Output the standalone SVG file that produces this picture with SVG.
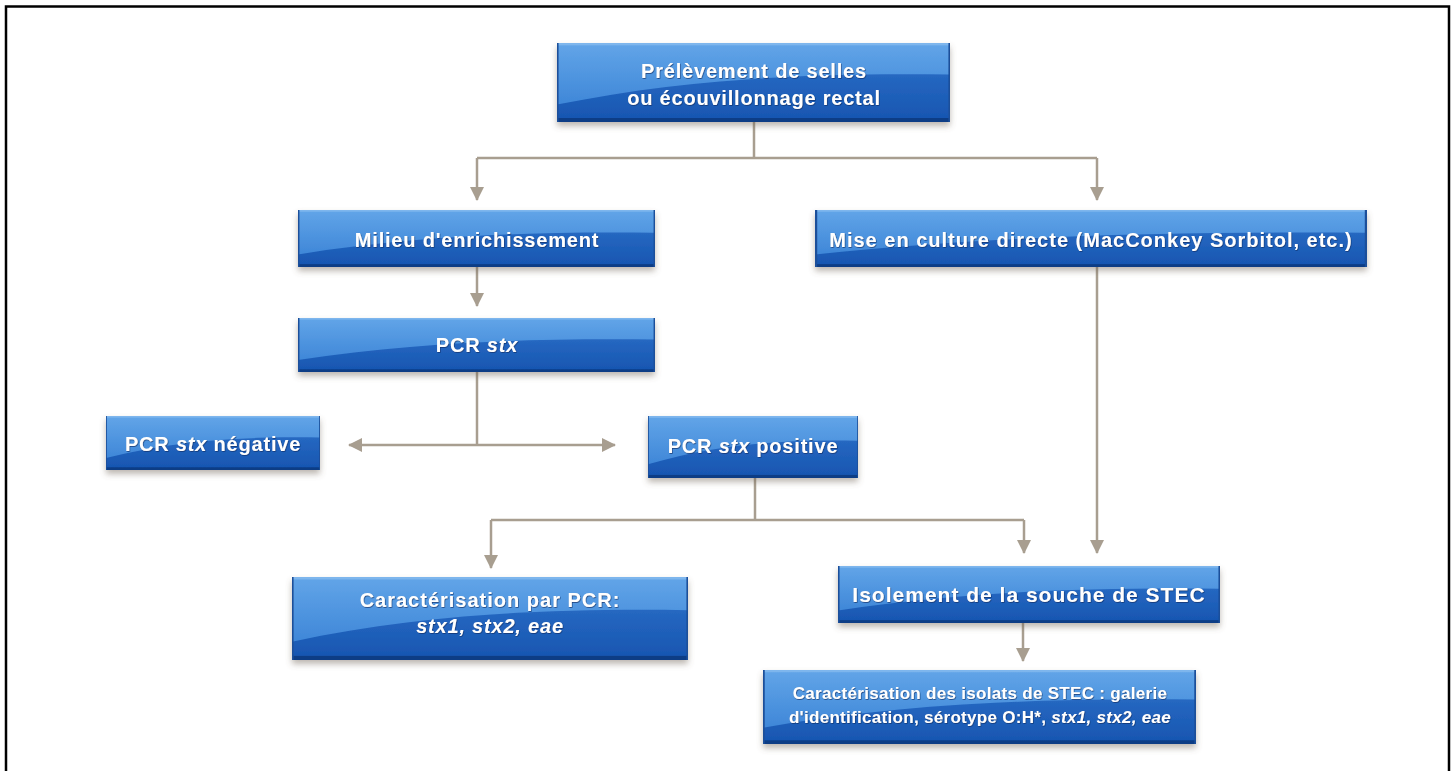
<svg xmlns="http://www.w3.org/2000/svg" xmlns:xlink="http://www.w3.org/1999/xlink" width="1455" height="771" viewBox="0 0 1455 771">
<style>
.lbl{font-family:"Liberation Sans",Arial,Helvetica,sans-serif;font-weight:bold;font-size:20px;fill:#ffffff;letter-spacing:0.8px;text-anchor:middle;filter:url(#tshadow)}
.sm{font-size:17px;letter-spacing:0.3px}
.lg{font-size:21px;letter-spacing:1px}
.it{font-style:italic}
.conn{fill:none;stroke:#a89e90;stroke-width:2.5}
.arr{marker-end:url(#ah)}
</style>
<defs>
<linearGradient id="gDark" x1="0" y1="0" x2="0" y2="1">
<stop offset="0" stop-color="#2f74cc"/>
<stop offset="1" stop-color="#1755b0"/>
</linearGradient>
<linearGradient id="gLight" x1="0" y1="0" x2="0" y2="1">
<stop offset="0" stop-color="#62a5e8"/>
<stop offset="1" stop-color="#3f87d8"/>
</linearGradient>
<filter id="bshadow" x="-5%" y="-20%" width="110%" height="160%">
<feGaussianBlur in="SourceAlpha" stdDeviation="3"/>
<feOffset dx="0" dy="4" result="b"/>
<feFlood flood-color="#6b5f50" flood-opacity="0.45"/>
<feComposite in2="b" operator="in"/>
<feMerge><feMergeNode/><feMergeNode in="SourceGraphic"/></feMerge>
</filter>
<filter id="tshadow" x="-5%" y="-30%" width="110%" height="160%">
<feDropShadow dx="0.6" dy="0.8" stdDeviation="0.6" flood-color="#0a2a60" flood-opacity="0.8"/>
</filter>
<symbol id="box" viewBox="0 0 100 100" preserveAspectRatio="none">
<rect x="0" y="0" width="100" height="100" fill="url(#gDark)"/>
<path d="M0,0 H100 V40 C70,38 35,42 0,78 Z" fill="url(#gLight)"/>
<rect x="0" y="0" width="100" height="3" fill="#8abdf0" opacity="0.7"/>
<rect x="0" y="95" width="100" height="5" fill="#0f3d85"/>
<rect x="0" y="0" width="0.4" height="100" fill="#1c4f9a"/>
<rect x="99.6" y="0" width="0.4" height="100" fill="#1c4f9a"/>
</symbol>
<marker id="ah" viewBox="0 0 14 14" refX="13" refY="7" markerWidth="14" markerHeight="14" markerUnits="userSpaceOnUse" orient="auto">
<path d="M0,0 L14,7 L0,14 Z" fill="#a89e90"/>
</marker>
</defs>
<rect x="0" y="0" width="1455" height="771" fill="#ffffff"/>
<path d="M6,771 V6.5 H1449 V771" fill="none" stroke="#000000" stroke-width="2.5"/>

<g id="connectors">
<path class="conn" d="M754,122 V158 M477,158 H1097"/>
<path class="conn arr" d="M477,158 V200"/>
<path class="conn arr" d="M1097,158 V200"/>
<path class="conn arr" d="M477,267 V306"/>
<path class="conn" d="M477,372 V445"/>
<path class="conn arr" d="M477,445 H349"/>
<path class="conn arr" d="M477,445 H615"/>
<path class="conn arr" d="M1097,267 V553"/>
<path class="conn" d="M755,478 V520 M491,520 H1024"/>
<path class="conn arr" d="M491,520 V568"/>
<path class="conn arr" d="M1024,520 V553"/>
<path class="conn arr" d="M1023,623 V661"/>
</g>

<g id="n1">
<use xlink:href="#box" x="557" y="43" width="393" height="79" filter="url(#bshadow)"/>
<text class="lbl" x="754" y="78">Prélèvement de selles</text>
<text class="lbl" x="754" y="105">ou écouvillonnage rectal</text>
</g>
<g id="n2">
<use xlink:href="#box" x="298" y="210" width="357" height="57" filter="url(#bshadow)"/>
<text class="lbl" x="477" y="247">Milieu d'enrichissement</text>
</g>
<g id="n3">
<use xlink:href="#box" x="815" y="210" width="552" height="57" filter="url(#bshadow)"/>
<text class="lbl" x="1091" y="247" style="letter-spacing:1px">Mise en culture directe (MacConkey Sorbitol, etc.)</text>
</g>
<g id="n4">
<use xlink:href="#box" x="298" y="318" width="357" height="54" filter="url(#bshadow)"/>
<text class="lbl" x="477" y="352">PCR <tspan class="it">stx</tspan></text>
</g>
<g id="n5">
<use xlink:href="#box" x="106" y="416" width="214" height="54" filter="url(#bshadow)"/>
<text class="lbl" x="213" y="451">PCR <tspan class="it">stx</tspan> négative</text>
</g>
<g id="n6">
<use xlink:href="#box" x="648" y="416" width="210" height="62" filter="url(#bshadow)"/>
<text class="lbl" x="753" y="453">PCR <tspan class="it">stx</tspan> positive</text>
</g>
<g id="n7">
<use xlink:href="#box" x="292" y="577" width="396" height="83" filter="url(#bshadow)"/>
<text class="lbl" x="490" y="607" style="letter-spacing:1px">Caractérisation par PCR:</text>
<text class="lbl it" x="490" y="633">stx1, stx2, eae</text>
</g>
<g id="n8">
<use xlink:href="#box" x="838" y="566" width="382" height="57" filter="url(#bshadow)"/>
<text class="lbl lg" x="1029" y="602">Isolement de la souche de STEC</text>
</g>
<g id="n9">
<use xlink:href="#box" x="763" y="670" width="433" height="74" filter="url(#bshadow)"/>
<text class="lbl sm" x="980" y="699">Caractérisation des isolats de STEC : galerie</text>
<text class="lbl sm" x="980" y="723">d'identification, sérotype O:H*, <tspan class="it">stx1, stx2, eae</tspan></text>
</g>
</svg>
